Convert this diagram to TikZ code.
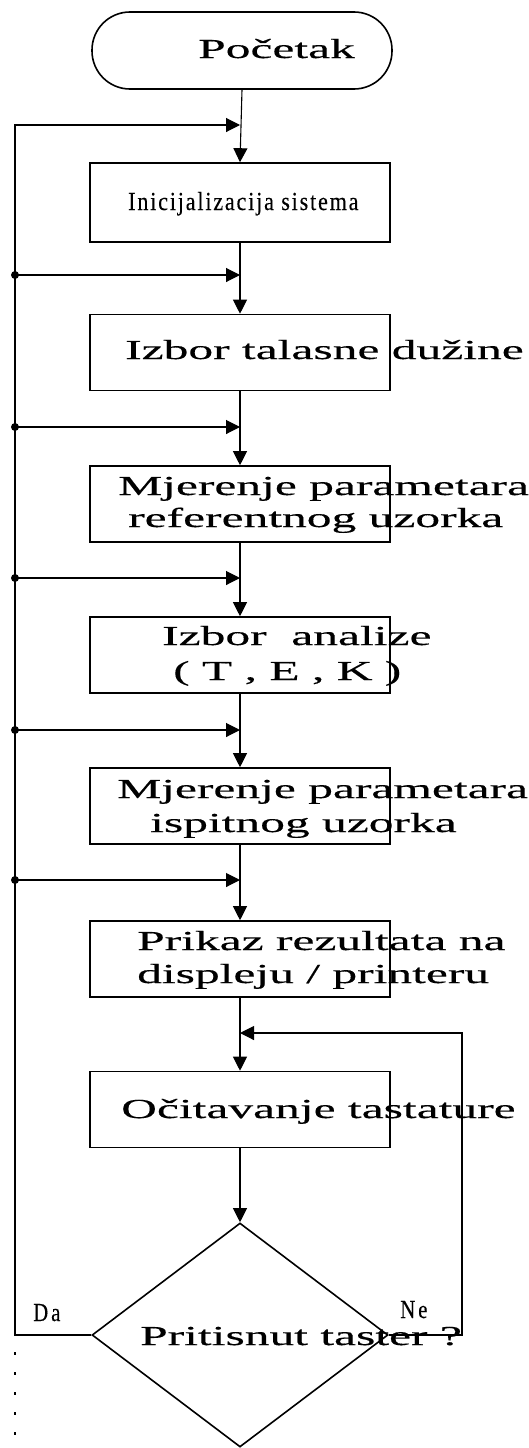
\documentclass[tikz,border=0pt]{standalone}
\usepackage{fontspec}
\setmainfont{Liberation Serif}
\newfontfamily\widef[FakeStretch=1.8,FakeBold=0.4]{Liberation Serif}
\newfontfamily\narrf[FakeStretch=0.85,FakeBold=0.3,LetterSpace=7]{Liberation Serif}
\newfontfamily\condf[FakeStretch=0.8,FakeBold=0.3]{Liberation Serif}
\usetikzlibrary{arrows.meta,shapes.geometric}
\begin{document}
\begin{tikzpicture}[x=1pt,y=-1pt,
  box/.style={draw,line width=1.6pt,minimum width=300pt,minimum height=76pt,inner sep=0pt},
  txt/.style={anchor=base west,inner sep=0pt,font=\widef\fontsize{27.5}{32}\selectfont},
  conn/.style={line width=1.1pt},
  arr/.style={conn,-{Triangle[length=14pt,width=14pt]}},
  jdot/.style={circle,fill,inner sep=0pt,minimum size=8pt}]
\useasboundingbox (0,0) rectangle (529,1448);

% boxes
\node[box,rounded corners=38pt,minimum height=77pt] (start) at (242,50.5) {};
\node[box,minimum height=79pt] (b1) at (240,202.5) {};
\node[box] (b2) at (240,352.5) {};
\node[box] (b3) at (240,504) {};
\node[box] (b4) at (240,655) {};
\node[box] (b5) at (240,806) {};
\node[box] (b6) at (240,959) {};
\node[box] (b7) at (240,1109.5) {};
\node[diamond,draw,line width=1.6pt,minimum width=296pt,minimum height=224pt,inner sep=0pt] (d) at (240,1335) {};

% texts
\node[txt] (tS) at (198,58) {Početak};
\node[txt,font=\narrf\fontsize{26}{30}\selectfont] (t1) at (128,210) {Inicijalizacija sistema};
\node[txt] (t2) at (125,359) {Izbor talasne dužine};
\node[txt] (t3a) at (118,495) {Mjerenje parametara};
\node[txt] (t3b) at (128,527) {referentnog uzorka};
\node[txt] (t4a) at (162,645) {Izbor\ \ analize};
\node[txt] (t4b) at (173,680) {( T , E , K )};
\node[txt] (t5a) at (117,798) {Mjerenje parametara};
\node[txt] (t5b) at (150,832) {ispitnog uzorka};
\node[txt] (t6a) at (137,950) {Prikaz rezultata na};
\node[txt] (t6b) at (137,983) {displeju / printeru};
\node[txt] (t7) at (121,1118) {Očitavanje tastature};
\node[txt] (t8) at (140,1345) {Pritisnut taster ?};
\node[txt,font=\condf\fontsize{26}{30}\selectfont] (lda) at (33,1321) {D\kern3pt a};
\node[txt,font=\condf\fontsize{26}{30}\selectfont] (lne) at (400,1318) {N\kern3pt e};

% junction coordinates
\coordinate (j0) at (240,125);
\coordinate (j1) at (240,275);
\coordinate (j2) at (240,427);
\coordinate (j3) at (240,578);
\coordinate (j4) at (240,730);
\coordinate (j5) at (240,880);
\coordinate (jr) at (240,1033);
\coordinate (L0) at (15,125);
\coordinate (Lb) at (15,1335);
\coordinate (Ld) at (15,1448);
\coordinate (Ls) at (15,1352);
\coordinate (Rb) at (462,1335);
\coordinate (Rt) at (462,1033);

% main flow
\draw[arr] (start.south) -- (b1.north);
\draw[arr] (b1.south) -- (b2.north);
\draw[arr] (b2.south) -- (b3.north);
\draw[arr] (b3.south) -- (b4.north);
\draw[arr] (b4.south) -- (b5.north);
\draw[arr] (b5.south) -- (b6.north);
\draw[arr] (b6.south) -- (b7.north);
\draw[arr] (b7.south) -- (d.north);

% yes branch (left)
\draw[arr] (d.west) -- (Lb) -- (L0) -- (j0);
\node[jdot] (p1) at (15,275) {};
\node[jdot] (p2) at (15,427) {};
\node[jdot] (p3) at (15,578) {};
\node[jdot] (p4) at (15,730) {};
\node[jdot] (p5) at (15,880) {};
\draw[arr] (p1.center) -- (j1);
\draw[arr] (p2.center) -- (j2);
\draw[arr] (p3.center) -- (j3);
\draw[arr] (p4.center) -- (j4);
\draw[arr] (p5.center) -- (j5);
\draw[conn,dash pattern=on 3pt off 17pt] (Ls) -- (Ld);

% no branch (right)
\draw[arr] (d.east) -- (Rb) -- (Rt) -- (jr);
\end{tikzpicture}
\end{document}
